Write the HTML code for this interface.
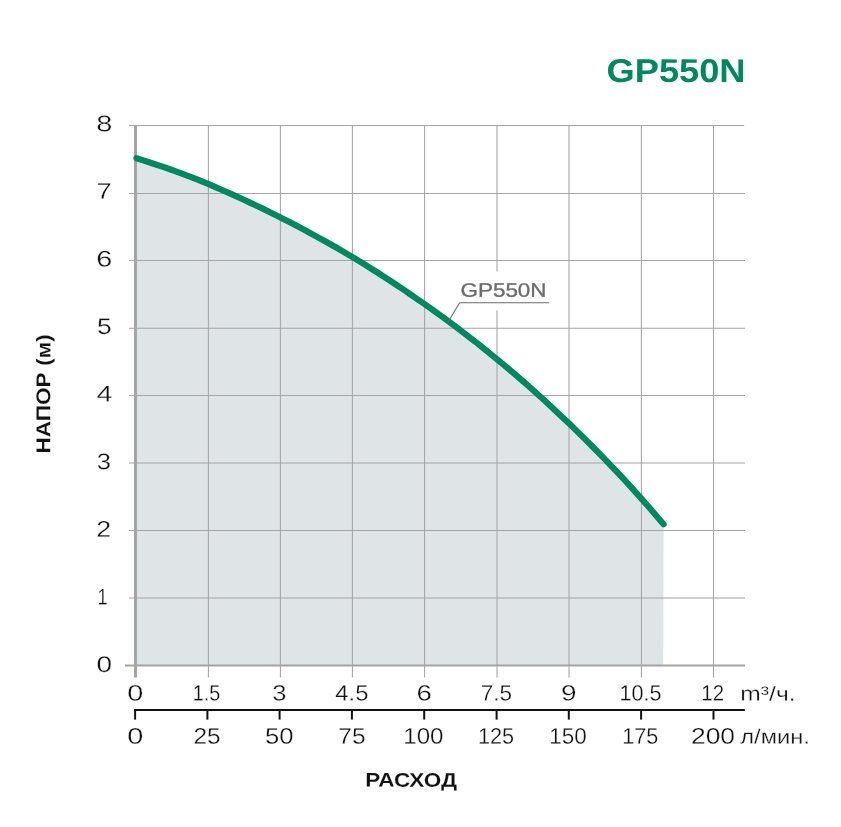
<!DOCTYPE html>
<html lang="ru"><head><meta charset="utf-8"><title>GP550N</title>
<style>
html,body{margin:0;padding:0;background:#fff;}
svg{display:block;}
text{font-family:"Liberation Sans",sans-serif;}
</style></head><body>
<svg width="841" height="827" viewBox="0 0 841 827">
<rect width="841" height="827" fill="#fff"/>
<path d="M135.3,158.2 L136.5,158.2 L143.2,160.4 L149.8,162.5 L156.5,164.7 L163.2,166.9 L169.9,169.2 L176.5,171.6 L183.2,174.1 L189.9,176.6 L196.5,179.2 L203.2,181.9 L209.9,184.7 L216.6,187.6 L223.2,190.5 L229.9,193.4 L236.6,196.4 L243.3,199.5 L249.9,202.6 L256.6,205.7 L263.3,208.9 L269.9,212.2 L276.6,215.5 L283.3,218.9 L290.0,222.3 L296.6,225.8 L303.3,229.3 L310.0,232.9 L316.6,236.6 L323.3,240.3 L330.0,244.0 L336.7,247.8 L343.3,251.7 L350.0,255.6 L356.7,259.6 L363.4,263.7 L370.0,267.8 L376.7,272.0 L383.4,276.3 L390.0,280.6 L396.7,285.1 L403.4,289.5 L410.1,294.1 L416.7,298.7 L423.4,303.3 L430.1,308.0 L436.7,312.8 L443.4,317.6 L450.1,322.5 L456.8,327.5 L463.4,332.6 L470.1,337.7 L476.8,342.9 L483.5,348.2 L490.1,353.6 L496.8,359.1 L503.5,364.6 L510.1,370.2 L516.8,375.9 L523.5,381.7 L530.2,387.5 L536.8,393.5 L543.5,399.5 L550.2,405.7 L556.8,411.9 L563.5,418.2 L570.2,424.6 L576.9,431.1 L583.5,437.6 L590.2,444.3 L596.9,451.0 L603.6,457.9 L610.2,464.8 L616.9,471.8 L623.6,478.9 L630.2,486.2 L636.9,493.6 L643.6,501.1 L650.3,508.7 L656.9,516.4 L663.6,524.2 L663.3,665.6 L135.3,665.6 Z" fill="#dfe4e7"/>

<g stroke="#a4a4a4" stroke-width="1.05" fill="none">
<line x1="208.4" y1="125.5" x2="208.4" y2="677.6"/>
<line x1="280.4" y1="125.5" x2="280.4" y2="677.6"/>
<line x1="352.4" y1="125.5" x2="352.4" y2="677.6"/>
<line x1="424.6" y1="125.5" x2="424.6" y2="677.6"/>
<line x1="497.0" y1="125.5" x2="497.0" y2="677.6"/>
<line x1="569.0" y1="125.5" x2="569.0" y2="677.6"/>
<line x1="641.4" y1="125.5" x2="641.4" y2="677.6"/>
<line x1="713.5" y1="125.5" x2="713.5" y2="677.6"/>
<line x1="129.0" y1="125.50" x2="744.2" y2="125.50"/>
<line x1="129.0" y1="193.45" x2="745.0" y2="193.45"/>
<line x1="129.0" y1="260.55" x2="745.0" y2="260.55"/>
<line x1="129.0" y1="328.30" x2="745.0" y2="328.30"/>
<line x1="129.0" y1="395.55" x2="745.0" y2="395.55"/>
<line x1="129.0" y1="462.95" x2="745.0" y2="462.95"/>
<line x1="129.0" y1="530.50" x2="745.0" y2="530.50"/>
<line x1="129.0" y1="598.00" x2="745.0" y2="598.00"/>
</g>
<line x1="125" y1="665.60" x2="745.0" y2="665.60" stroke="#a3a3a3" stroke-width="2"/>
<line x1="135.5" y1="125.0" x2="135.5" y2="677.6" stroke="#a3a3a3" stroke-width="2.9"/>
<rect x="456" y="271.4" width="96" height="39" fill="#fff"/>
<path d="M136.5,158.2 L143.2,160.4 L149.8,162.5 L156.5,164.7 L163.2,166.9 L169.9,169.2 L176.5,171.6 L183.2,174.1 L189.9,176.6 L196.5,179.2 L203.2,181.9 L209.9,184.7 L216.6,187.6 L223.2,190.5 L229.9,193.4 L236.6,196.4 L243.3,199.5 L249.9,202.6 L256.6,205.7 L263.3,208.9 L269.9,212.2 L276.6,215.5 L283.3,218.9 L290.0,222.3 L296.6,225.8 L303.3,229.3 L310.0,232.9 L316.6,236.6 L323.3,240.3 L330.0,244.0 L336.7,247.8 L343.3,251.7 L350.0,255.6 L356.7,259.6 L363.4,263.7 L370.0,267.8 L376.7,272.0 L383.4,276.3 L390.0,280.6 L396.7,285.1 L403.4,289.5 L410.1,294.1 L416.7,298.7 L423.4,303.3 L430.1,308.0 L436.7,312.8 L443.4,317.6 L450.1,322.5 L456.8,327.5 L463.4,332.6 L470.1,337.7 L476.8,342.9 L483.5,348.2 L490.1,353.6 L496.8,359.1 L503.5,364.6 L510.1,370.2 L516.8,375.9 L523.5,381.7 L530.2,387.5 L536.8,393.5 L543.5,399.5 L550.2,405.7 L556.8,411.9 L563.5,418.2 L570.2,424.6 L576.9,431.1 L583.5,437.6 L590.2,444.3 L596.9,451.0 L603.6,457.9 L610.2,464.8 L616.9,471.8 L623.6,478.9 L630.2,486.2 L636.9,493.6 L643.6,501.1 L650.3,508.7 L656.9,516.4 L663.6,524.2" fill="none" stroke="#008860" stroke-width="6.2" stroke-linecap="round" stroke-linejoin="round"/>
<path d="M447.3,323.3 L459.6,302.8 L549.2,302.8" fill="none" stroke="#6c6c6c" stroke-width="1.1"/>
<g stroke="#121212" stroke-width="2" fill="none"><line x1="134" y1="710" x2="744.8" y2="710"/>
<line x1="135.1" y1="710" x2="135.1" y2="719.6"/>
<line x1="207.4" y1="710" x2="207.4" y2="719.6"/>
<line x1="279.6" y1="710" x2="279.6" y2="719.6"/>
<line x1="351.9" y1="710" x2="351.9" y2="719.6"/>
<line x1="424.2" y1="710" x2="424.2" y2="719.6"/>
<line x1="496.6" y1="710" x2="496.6" y2="719.6"/>
<line x1="568.8" y1="710" x2="568.8" y2="719.6"/>
<line x1="641.1" y1="710" x2="641.1" y2="719.6"/>
<line x1="713.5" y1="710" x2="713.5" y2="719.6"/>
</g>
<text transform="translate(96.14,131.18) rotate(0.05) scale(1.2825,1)" font-size="22.60" font-weight="normal" fill="#121212" stroke="#fff" stroke-width="0.25">8</text>
<text transform="translate(96.50,198.78) rotate(0.05) scale(1.2070,1)" font-size="22.60" font-weight="normal" fill="#121212" stroke="#fff" stroke-width="0.25">7</text>
<text transform="translate(96.24,266.38) rotate(0.05) scale(1.2755,1)" font-size="22.60" font-weight="normal" fill="#121212" stroke="#fff" stroke-width="0.25">6</text>
<text transform="translate(97.04,333.98) rotate(0.05) scale(1.1666,1)" font-size="22.60" font-weight="normal" fill="#121212" stroke="#fff" stroke-width="0.25">5</text>
<text transform="translate(96.44,401.58) rotate(0.05) scale(1.2733,1)" font-size="22.60" font-weight="normal" fill="#121212" stroke="#fff" stroke-width="0.25">4</text>
<text transform="translate(96.73,469.18) rotate(0.05) scale(1.1293,1)" font-size="22.60" font-weight="normal" fill="#121212" stroke="#fff" stroke-width="0.25">3</text>
<text transform="translate(96.35,536.78) rotate(0.05) scale(1.1850,1)" font-size="22.60" font-weight="normal" fill="#121212" stroke="#fff" stroke-width="0.25">2</text>
<text transform="translate(97.62,604.38) rotate(0.05) scale(0.8005,1)" font-size="22.60" font-weight="normal" fill="#121212" stroke="#fff" stroke-width="0.25">1</text>
<text transform="translate(96.41,671.98) rotate(0.05) scale(1.2358,1)" font-size="22.60" font-weight="normal" fill="#121212" stroke="#fff" stroke-width="0.25">0</text>
<text transform="translate(127.17,700.58) rotate(0.05) scale(1.3019,1)" font-size="22.17" font-weight="normal" fill="#121212" stroke="#fff" stroke-width="0.25">0</text>
<text transform="translate(192.79,700.58) rotate(0.05) scale(0.8934,1)" font-size="22.17" font-weight="normal" fill="#121212" stroke="#fff" stroke-width="0.25">1.5</text>
<text transform="translate(272.23,700.58) rotate(0.05) scale(1.1509,1)" font-size="22.17" font-weight="normal" fill="#121212" stroke="#fff" stroke-width="0.25">3</text>
<text transform="translate(335.35,700.58) rotate(0.05) scale(1.0719,1)" font-size="22.17" font-weight="normal" fill="#121212" stroke="#fff" stroke-width="0.25">4.5</text>
<text transform="translate(416.60,700.58) rotate(0.05) scale(1.2412,1)" font-size="22.17" font-weight="normal" fill="#121212" stroke="#fff" stroke-width="0.25">6</text>
<text transform="translate(480.85,700.58) rotate(0.05) scale(1.0154,1)" font-size="22.17" font-weight="normal" fill="#121212" stroke="#fff" stroke-width="0.25">7.5</text>
<text transform="translate(560.89,700.58) rotate(0.05) scale(1.2594,1)" font-size="22.17" font-weight="normal" fill="#121212" stroke="#fff" stroke-width="0.25">9</text>
<text transform="translate(619.45,700.58) rotate(0.05) scale(0.9744,1)" font-size="22.17" font-weight="normal" fill="#121212" stroke="#fff" stroke-width="0.25">10.5</text>
<text transform="translate(701.35,700.58) rotate(0.05) scale(0.9194,1)" font-size="22.17" font-weight="normal" fill="#121212" stroke="#fff" stroke-width="0.25">12</text>
<text transform="translate(127.17,743.68) rotate(0.05) scale(1.2775,1)" font-size="22.60" font-weight="normal" fill="#121212" stroke="#fff" stroke-width="0.25">0</text>
<text transform="translate(193.48,743.68) rotate(0.05) scale(1.0759,1)" font-size="22.60" font-weight="normal" fill="#121212" stroke="#fff" stroke-width="0.25">25</text>
<text transform="translate(264.97,743.68) rotate(0.05) scale(1.1350,1)" font-size="22.60" font-weight="normal" fill="#121212" stroke="#fff" stroke-width="0.25">50</text>
<text transform="translate(338.24,743.68) rotate(0.05) scale(1.0856,1)" font-size="22.60" font-weight="normal" fill="#121212" stroke="#fff" stroke-width="0.25">75</text>
<text transform="translate(403.27,743.68) rotate(0.05) scale(1.0655,1)" font-size="22.60" font-weight="normal" fill="#121212" stroke="#fff" stroke-width="0.25">100</text>
<text transform="translate(477.95,743.68) rotate(0.05) scale(0.9591,1)" font-size="22.60" font-weight="normal" fill="#121212" stroke="#fff" stroke-width="0.25">125</text>
<text transform="translate(549.29,743.68) rotate(0.05) scale(0.9914,1)" font-size="22.60" font-weight="normal" fill="#121212" stroke="#fff" stroke-width="0.25">150</text>
<text transform="translate(622.25,743.68) rotate(0.05) scale(0.9591,1)" font-size="22.60" font-weight="normal" fill="#121212" stroke="#fff" stroke-width="0.25">175</text>
<text transform="translate(690.97,743.68) rotate(0.05) scale(1.1685,1)" font-size="22.60" font-weight="normal" fill="#121212" stroke="#fff" stroke-width="0.25">200</text>
<text transform="translate(740.37,700.60) rotate(0.05) scale(1.2097,1)" font-size="20.34" font-weight="normal" fill="#121212" stroke="#fff" stroke-width="0.25">m³/ч.</text>
<text transform="translate(740.27,743.60) rotate(0.05) scale(1.1648,1)" font-size="20.34" font-weight="normal" fill="#121212" stroke="#fff" stroke-width="0.25">л/мин.</text>
<text transform="translate(606.61,81.98) rotate(0.05) scale(1.1007,1)" font-size="32.91" font-weight="bold" fill="#008860">GP550N</text>
<text transform="translate(460.47,296.81) rotate(0.05) scale(1.1525,1)" font-size="19.49" font-weight="normal" fill="#6b6b6b" stroke="#6b6b6b" stroke-width="0.3">GP550N</text>
<text transform="translate(365.19,786.61) rotate(0.05) scale(1.1492,1)" font-size="19.63" font-weight="bold" fill="#121212" stroke="#fff" stroke-width="0.12">РАСХОД</text>
<text transform="translate(50.30,453.61) rotate(-89.95) scale(1.1273,1)" font-size="20.06" font-weight="bold" fill="#121212" stroke="#fff" stroke-width="0.12">НАПОР (м)</text>
</svg></body></html>
